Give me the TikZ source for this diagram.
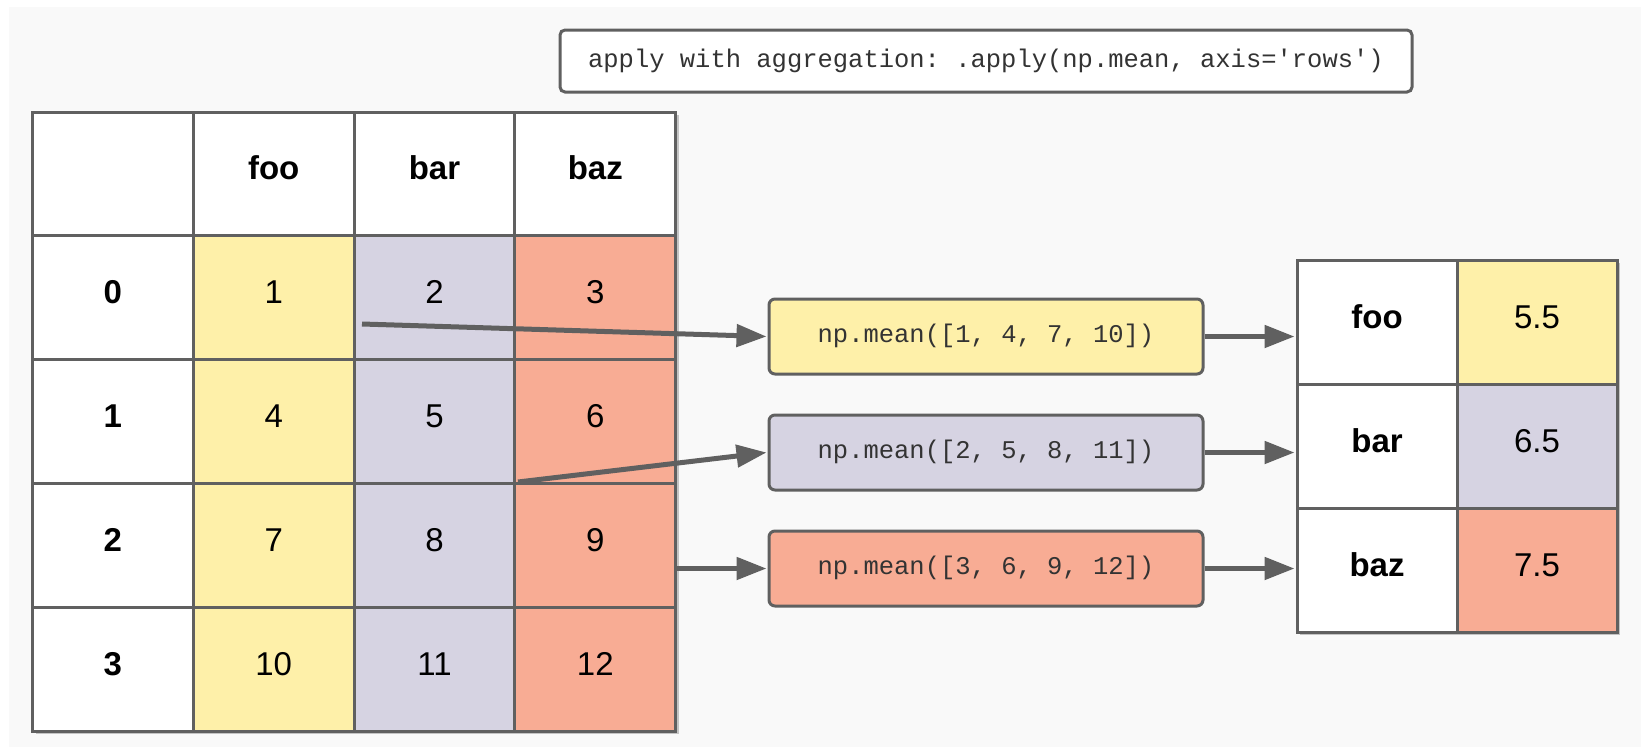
\documentclass[tikz,border=0pt]{standalone}
\usepackage{fontspec}
\setmainfont{Liberation Sans}
\setmonofont{Liberation Mono}
\usetikzlibrary{arrows.meta}
\definecolor{bgc}{HTML}{F9F9F9}
\definecolor{ylw}{HTML}{FEF0A9}
\definecolor{lav}{HTML}{D6D3E2}
\definecolor{sal}{HTML}{F8AC94}
\definecolor{edge}{HTML}{606060}
\definecolor{txt}{HTML}{333333}
\definecolor{shd}{HTML}{C4C4C4}
\begin{document}
\begin{tikzpicture}[x=1pt,y=-1pt,
  cell/.style={draw=edge, line width=3pt, minimum width=160.8pt, minimum height=123.8pt, inner sep=0pt, text height=24pt, text depth=12pt, font=\fontsize{33}{40}\selectfont},
  rcell/.style={cell, minimum width=160pt, minimum height=124pt},
  hd/.style={font=\fontsize{33}{40}\selectfont\bfseries},
  mbox/.style={draw=edge, line width=3pt, rounded corners=6pt, minimum width=434pt, minimum height=75pt, inner sep=0pt, text height=17pt, text depth=5pt, text=txt, font=\ttfamily\fontsize{25.5}{30}\selectfont},
  arr/.style={draw=edge, line width=5pt, -{Triangle[length=30pt,width=22pt]}}]
\useasboundingbox (0,0) rectangle (1645,747);
\fill[white] (0,0) rectangle (1645,747);
\fill[bgc] (9,7) rectangle (1641,747);
% shadows
\fill[shd] (35.5,115) rectangle (678.6,734);
\fill[shd] (1300,263) rectangle (1620,635);
% top box
\node[mbox, fill=white, rounded corners=5pt, minimum width=852pt, minimum height=62pt] (title) at (986,61) {apply with aggregation: .apply(np.mean, axis='rows')};
% left table
\node[cell, fill=white] (h0) at (112.9,173.9) {};
\node[cell, fill=white, hd] (h1) at (273.7,173.9) {foo};
\node[cell, fill=white, hd] (h2) at (434.5,173.9) {bar};
\node[cell, fill=white, hd] (h3) at (595.3,173.9) {baz};
\foreach \r/\y/\a/\b/\c in {0/297.7/1/2/3, 1/421.5/4/5/6, 2/545.3/7/8/9, 3/669.1/10/11/12}{
  \node[cell, fill=white, hd] (c\r0) at (112.9,\y) {\r};
  \node[cell, fill=ylw] (c\r1) at (273.7,\y) {\a};
  \node[cell, fill=lav] (c\r2) at (434.5,\y) {\b};
  \node[cell, fill=sal] (c\r3) at (595.3,\y) {\c};
}
% mean boxes
\node[mbox, fill=ylw] (m1) at (986,336.5) {np.mean([1, 4, 7, 10])};
\node[mbox, fill=lav] (m2) at (986,452.5) {np.mean([2, 5, 8, 11])};
\node[mbox, fill=sal] (m3) at (986,568.5) {np.mean([3, 6, 9, 12])};
% right table
\node[rcell, fill=white, hd] (r1a) at (1377,322) {foo};
\node[rcell, fill=ylw] (r1b) at (1537,322) {5.5};
\node[rcell, fill=white, hd] (r2a) at (1377,446) {bar};
\node[rcell, fill=lav] (r2b) at (1537,446) {6.5};
\node[rcell, fill=white, hd] (r3a) at (1377,570) {baz};
\node[rcell, fill=sal] (r3b) at (1537,570) {7.5};
% arrows
\coordinate (s1) at (362,324);
\coordinate (s2) at (518,482);
\draw[arr] (s1) -- ([xshift=-1pt]m1.west);
\draw[arr] (s2) -- ([xshift=-1pt]m2.west);
\draw[arr] (m3.west -| c23.east) -- ([xshift=-1pt]m3.west);
\draw[arr] (m1.east) -- ([xshift=-1pt]m1.east -| r1a.west);
\draw[arr] (m2.east) -- ([xshift=-1pt]m2.east -| r2a.west);
\draw[arr] (m3.east) -- ([xshift=-1pt]m3.east -| r3a.west);
\end{tikzpicture}
\end{document}
